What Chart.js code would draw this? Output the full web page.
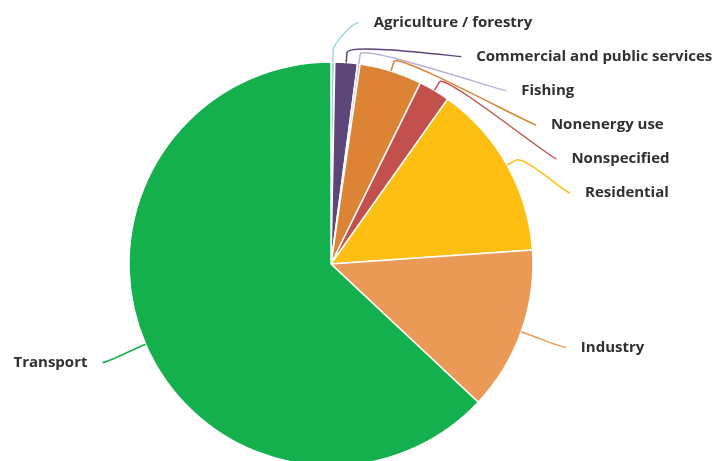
<!DOCTYPE html>
<html lang="en">
<head>
<meta charset="UTF-8">
<title>Energy consumption by sector</title>
<script src="https://cdn.jsdelivr.net/npm/chart.js"></script>
<style>
  html, body { margin: 0; padding: 0; background: #fff; overflow: hidden; }
  .chart-container { position: relative; width: 716px; height: 500px; }
</style>
</head>
<body>
<div class="chart-container">
  <canvas id="myChart"></canvas>
</div>
<script>
  // --- data (share of total, %) ---
  const sectors = [
    'Agriculture / forestry',
    'Commercial and public services',
    'Fishing',
    'Nonenergy use',
    'Nonspecified',
    'Residential',
    'Industry',
    'Transport'
  ];
  const shares = [0.3, 1.8, 0.2, 5.0, 2.5, 14.1, 13.1, 63.0];
  const sliceColors = ['#a3d5e6', '#5c467a', '#b7b2d8', '#dc8335', '#c2504c', '#fdbf11', '#ea9a56', '#13b04d'];

  // labels outside the pie with soft leader lines
  const outsideLabels = {
    id: 'outsideLabels',
    afterDatasetsDraw(chart) {
      const ctx = chart.ctx;
      const arcs = chart.getDatasetMeta(0).data;
      const items = arcs.map((arc, i) => {
        const p = arc.getProps(['x', 'y', 'startAngle', 'endAngle', 'outerRadius']);
        const mid = (p.startAngle + p.endAngle) / 2;
        const a = p.outerRadius + 48;   // horizontal reach of label ring
        const b = p.outerRadius + 41;   // vertical reach
        return { i, p, mid, a, b, right: Math.cos(mid) >= 0, y: p.y + Math.sin(mid) * (p.outerRadius + 46) };
      });

      // push labels apart on each side
      [true, false].forEach(side => {
        const list = items.filter(it => it.right === side).sort((m, n) => m.y - n.y);
        let prev = -Infinity;
        list.forEach(it => {
          it.y = Math.max(it.y, 22.5, prev + 34.1);
          prev = it.y;
        });
      });

      ctx.save();
      ctx.lineWidth = 1.5;
      ctx.font = 'bold 15px "Open Sans"';
      ctx.textBaseline = 'middle';
      items.forEach(it => {
        const { p, mid, a, b } = it;
        const r = p.outerRadius;
        const c = Math.cos(mid), s = Math.sin(mid);
        const sx = p.x + c * r, sy = p.y + s * r;
        const bx = p.x + c * (r + 10), by = p.y + s * (r + 10);
        const k = Math.min(Math.abs(it.y - p.y) / b, 1);
        const dx = a * Math.sqrt(1 - k * k);
        const ex = it.right ? p.x + dx : p.x - dx;
        const ey = it.y;

        ctx.strokeStyle = sliceColors[it.i];
        ctx.beginPath();
        ctx.moveTo(ex, ey);
        ctx.bezierCurveTo(ex + (it.right ? -5 : 5), ey, 2 * bx - sx, 2 * by - sy, bx, by);
        ctx.lineTo(sx, sy);
        ctx.stroke();

        ctx.fillStyle = '#303030';
        ctx.textAlign = it.right ? 'left' : 'right';
        ctx.fillText(sectors[it.i], it.right ? ex + 15 : ex - 15, ey);
      });
      ctx.restore();
    }
  };

  const ctx = document.getElementById('myChart').getContext('2d');
  new Chart(ctx, {
    type: 'pie',
    data: {
      labels: sectors,
      datasets: [{
        data: shares,
        backgroundColor: sliceColors,
        borderColor: '#ffffff',
        borderWidth: 1.5
      }]
    },
    options: {
      responsive: true,
      maintainAspectRatio: false,
      animation: false,
      radius: 202,
      layout: { padding: { top: 62, bottom: 34, left: 129, right: 183 } },
      plugins: {
        legend: { display: false },
        tooltip: { enabled: false }
      }
    },
    plugins: [outsideLabels]
  });
</script>
</body>
</html>
